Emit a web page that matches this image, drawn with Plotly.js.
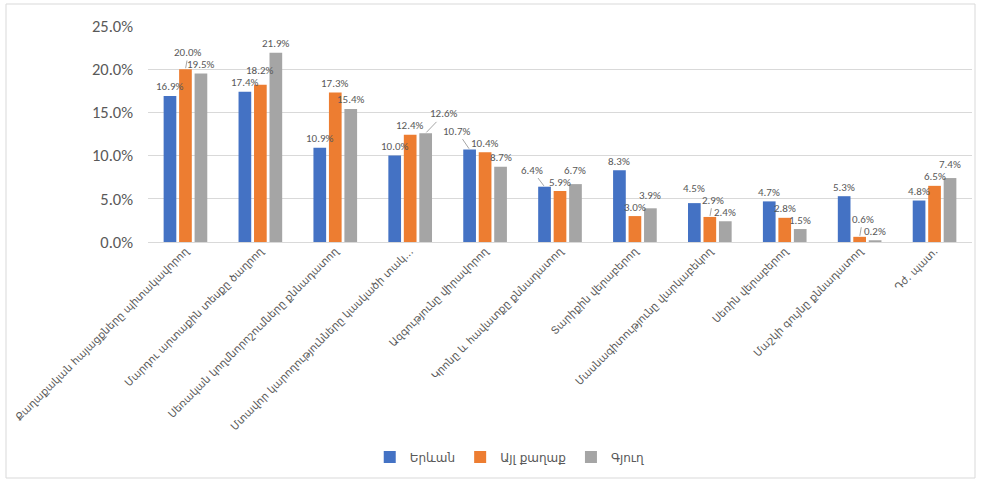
<!DOCTYPE html>
<html><head><meta charset="utf-8">
<script src="https://cdn.plot.ly/plotly-3.0.1.min.js"></script>
<style>html,body{margin:0;padding:0;background:#fff;}#chart{width:982px;height:482px;}</style>
</head><body><div id="chart"></div>
<script>
const categories = [
  "Քաղաքական հայացքները պիտակավորող",
  "Մարդու արտաքին տեսքը ծաղրող",
  "Սեռական կողմնորոշումները քննադատող",
  "Մտավոր կարողությունները կասկածի տակ…",
  "Ազգությունը վիրավորող",
  "Կրոնը և հավատքը քննադատող",
  "Տարիքին վերաբերող",
  "Մասնագիտությունը վարկաբեկող",
  "Սեռին վերաբերող",
  "Մաշկի գույնը քննադատող",
  "Դժ. պատ."
];
const seriesNames = ["Երևան", "Այլ քաղաք", "Գյուղ"];
const yerevan = [0.169, 0.174, 0.109, 0.100, 0.107, 0.064, 0.083, 0.045, 0.047, 0.053, 0.048];
const otherCity = [0.200, 0.182, 0.173, 0.124, 0.104, 0.059, 0.030, 0.029, 0.028, 0.006, 0.065];
const village = [0.195, 0.219, 0.154, 0.126, 0.087, 0.067, 0.039, 0.024, 0.015, 0.002, 0.074];

const colors = ["#4472C4", "#ED7D31", "#A5A5A5"];
const font = "Calibri, Carlito, 'Liberation Sans', 'DejaVu Sans', sans-serif";
const vals = [yerevan, otherCity, village];

const W = 982, H = 482, M = {l: 148, r: 10, t: 26, b: 240};
const yMax = 0.25, bargap = 0.38, bargroupgap = 0.18;
const plotW = W - M.l - M.r, plotH = H - M.t - M.b;
const pxPerUnit = plotH / yMax;
const slot = (plotW / categories.length) * (1 - bargap) / vals.length;

const traces = vals.map((v, i) => ({
  type: "bar",
  name: seriesNames[i],
  x: categories,
  y: v,
  marker: {color: colors[i]},
  hoverinfo: "x+y"
}));

// data labels placed above bars, nudging taller-bar labels upward to avoid collisions
const LH = 12, LW = 30, BASE = 9;
const annotations = [];
categories.forEach((c, ci) => {
  const labs = vals.map((v, si) => ({si, v: v[ci], dx: (si - 1) * slot, y: v[ci] * pxPerUnit + BASE}));
  for (let iter = 0; iter < 10; iter++) {
    let moved = false;
    for (let k = 1; k < labs.length; k++) {
      const a = labs[k - 1], b = labs[k];
      if (Math.abs(a.dx - b.dx) < LW && Math.abs(a.y - b.y) < LH) {
        if (a.v >= b.v) a.y = b.y + LH; else b.y = a.y + LH;
        moved = true;
      }
    }
    if (!moved) break;
  }
  labs.forEach(l => {
    const base = l.v * pxPerUnit;
    const off = l.y - base;
    const txt = (l.v * 100).toFixed(1) + "%";
    if (off > BASE + 6) {
      annotations.push({
        x: c, y: l.v, xref: "x", yref: "y", text: txt,
        showarrow: true, arrowhead: 0, arrowwidth: 1, arrowcolor: "#a6a6a6",
        ax: l.dx + 3, ay: -off, xshift: l.dx, standoff: 1,
        font: {size: 11, color: "#595959", family: font}
      });
    } else {
      annotations.push({
        x: c, y: l.v, xref: "x", yref: "y", text: txt, showarrow: false,
        xshift: l.dx, yshift: off, yanchor: "middle",
        font: {size: 11, color: "#595959", family: font}
      });
    }
  });
});

const layout = {
  width: W, height: H,
  margin: M,
  paper_bgcolor: "#fff", plot_bgcolor: "#fff",
  font: {family: font, color: "#595959"},
  barmode: "group",
  bargap: bargap,
  bargroupgap: bargroupgap,
  xaxis: {
    tickangle: -45,
    tickfont: {size: 10.5, color: "#595959", family: "'DejaVu Sans', sans-serif"},
    showgrid: false,
    showline: false,
    ticks: ""
  },
  yaxis: {
    range: [0, yMax],
    dtick: 0.05,
    tickformat: ".1%",
    tickfont: {size: 16.5, color: "#595959", family: font},
    gridcolor: "#d9d9d9",
    gridwidth: 1,
    zeroline: true,
    zerolinecolor: "#d9d9d9",
    showline: false,
    ticklabelstandoff: 14
  },
  legend: {
    orientation: "h",
    x: 0.439, xanchor: "center",
    y: -0.995, yanchor: "middle",
    font: {size: 12, color: "#595959", family: "'DejaVu Sans', sans-serif"},
    itemwidth: 30,
    tracegroupgap: 0
  },
  annotations: annotations,
  shapes: [{
    type: "rect", xref: "paper", yref: "paper",
    x0: (6 - M.l) / plotW, x1: (975 - M.l) / plotW,
    y0: -(478 - M.t - plotH) / plotH, y1: 1 + (M.t - 4) / plotH,
    line: {color: "#d9d9d9", width: 1}, layer: "below"
  }],
  showlegend: true
};
Plotly.newPlot("chart", traces, layout, {displayModeBar: false, staticPlot: true});
</script></body></html>
